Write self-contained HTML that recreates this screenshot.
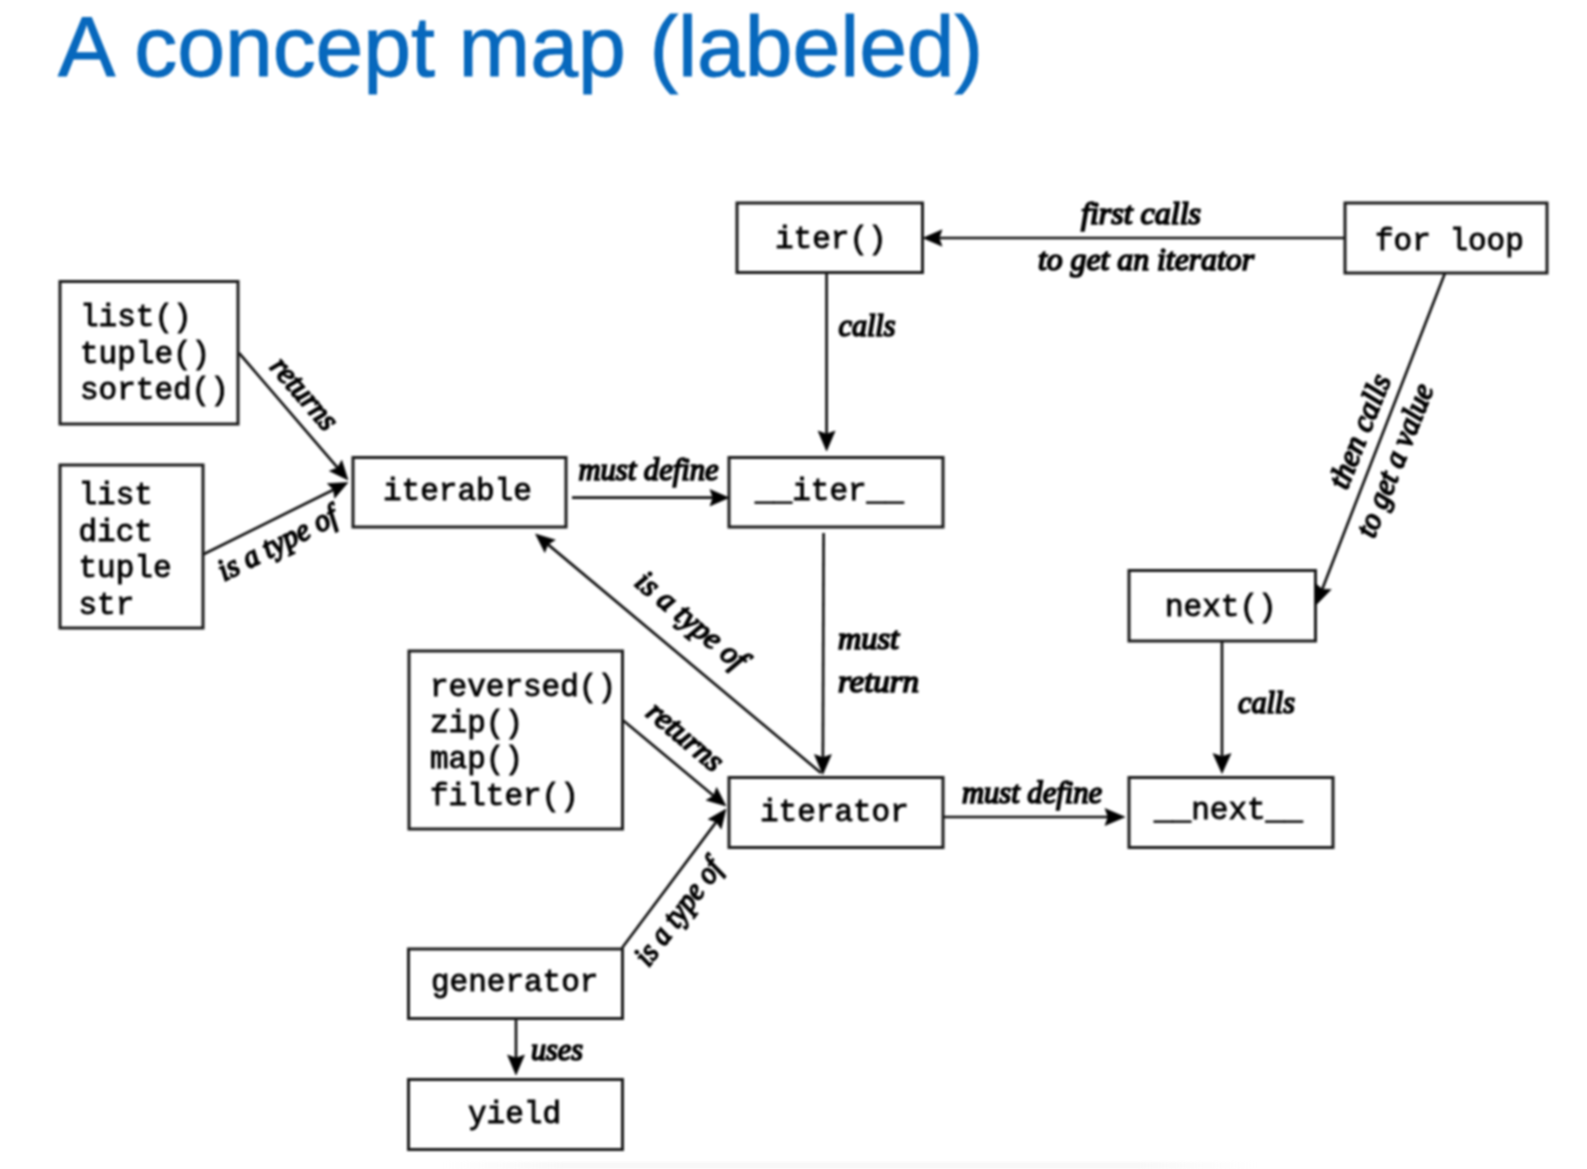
<!DOCTYPE html>
<html><head><meta charset="utf-8">
<style>
html,body{margin:0;padding:0;background:#fff;}
body{width:1587px;height:1169px;overflow:hidden;position:relative;}
#wrap{position:absolute;left:0;top:0;width:1587px;height:1169px;filter:blur(1px);}
#title{position:absolute;left:58px;top:-4px;-webkit-text-stroke:0.9px #0768bd;letter-spacing:-0.1px;font-family:"Liberation Sans",sans-serif;font-size:86px;color:#0768bd;white-space:nowrap;line-height:100px;}
svg{position:absolute;left:0;top:0;}
.bx{fill:none;stroke:#1a1a1a;stroke-width:3;}
.mono{font-family:"Liberation Mono",monospace;font-size:31px;fill:#000;stroke:#000;stroke-width:0.9;}
.hw{font-family:"Liberation Serif",serif;font-style:italic;font-weight:normal;fill:#000;stroke:#000;stroke-width:1.7;}
.ln{stroke:#111;stroke-width:2.7;fill:none;}
.ah{fill:#000;stroke:#000;stroke-width:0.6;}
</style></head><body>
<div id="wrap"><div id="title">A concept map (labeled)</div>
<div style="position:absolute;left:440px;top:1162px;width:820px;height:7px;background:linear-gradient(90deg,rgba(235,235,235,0),rgba(235,235,235,0.35) 15%,rgba(235,235,235,0.35) 85%,rgba(235,235,235,0));"></div>
<svg width="1587" height="1169" viewBox="0 0 1587 1169">

<g class="ln">
<line x1="239.0" y1="353.0" x2="337.5" y2="467.7"/>
<line x1="203.0" y1="554.5" x2="333.5" y2="489.7"/>
<line x1="572.0" y1="497.7" x2="712.9" y2="497.7"/>
<line x1="826.6" y1="273.0" x2="826.6" y2="434.0"/>
<line x1="1345.0" y1="238.0" x2="939.1" y2="238.0"/>
<line x1="1445.0" y1="273.0" x2="1322.2" y2="589.2"/>
<line x1="823.6" y1="533.0" x2="822.9" y2="757.5"/>
<line x1="821.0" y1="773.0" x2="547.9" y2="544.4"/>
<line x1="623.0" y1="720.3" x2="713.6" y2="795.7"/>
<line x1="622.0" y1="948.0" x2="716.3" y2="821.9"/>
<line x1="943.0" y1="817.0" x2="1108.0" y2="817.0"/>
<line x1="1222.0" y1="641.0" x2="1222.0" y2="756.5"/>
<line x1="516.0" y1="1018.5" x2="516.0" y2="1058.0"/>
</g>
<rect class="bx" x="60.0" y="281.5" width="178.0" height="142.5"/>
<rect class="bx" x="60.0" y="465.0" width="143.0" height="163.0"/>
<rect class="bx" x="353.0" y="457.5" width="213.0" height="69.5"/>
<rect class="bx" x="729.0" y="457.5" width="214.0" height="69.5"/>
<rect class="bx" x="737.0" y="203.0" width="185.5" height="69.5"/>
<rect class="bx" x="1345.0" y="203.0" width="202.0" height="70.0"/>
<rect class="bx" x="1129.0" y="570.5" width="186.5" height="70.5"/>
<rect class="bx" x="1129.0" y="777.5" width="204.0" height="70.0"/>
<rect class="bx" x="729.0" y="777.5" width="214.0" height="70.0"/>
<rect class="bx" x="409.0" y="651.0" width="213.5" height="178.0"/>
<rect class="bx" x="408.5" y="949.0" width="214.0" height="69.5"/>
<rect class="bx" x="408.5" y="1079.5" width="214.0" height="70.0"/>
<path class="ah" d="M348.0 480.0L329.4 470.9L337.5 467.7L341.8 460.2Z"/>
<path class="ah" d="M348.0 482.5L334.6 498.3L333.5 489.7L327.3 483.6Z"/>
<path class="ah" d="M729.0 497.7L710.0 505.9L712.9 497.7L710.0 489.5Z"/>
<path class="ah" d="M826.6 451.0L818.1 431.0L826.6 434.0L835.1 431.0Z"/>
<path class="ah" d="M923.0 238.0L942.0 229.8L939.1 238.0L942.0 246.2Z"/>
<path class="ah" d="M1316.0 605.0L1315.3 583.3L1322.2 589.2L1331.2 589.4Z"/>
<path class="ah" d="M822.8 774.5L814.4 754.5L822.9 757.5L831.4 754.5Z"/>
<path class="ah" d="M535.5 534.0L555.3 539.9L547.9 544.4L544.8 552.5Z"/>
<path class="ah" d="M726.0 806.0L706.1 800.2L713.6 795.7L716.6 787.5Z"/>
<path class="ah" d="M726.0 809.0L721.2 829.1L716.3 821.9L708.1 819.3Z"/>
<path class="ah" d="M1125.0 817.0L1105.0 825.5L1108.0 817.0L1105.0 808.5Z"/>
<path class="ah" d="M1222.0 773.5L1213.0 753.5L1222.0 756.5L1231.0 753.5Z"/>
<path class="ah" d="M516.0 1075.0L507.5 1055.0L516.0 1058.0L524.5 1055.0Z"/>
<text class="mono" x="80.0" y="326.0">list()</text>
<text class="mono" x="80.0" y="362.5">tuple()</text>
<text class="mono" x="80.0" y="399.0">sorted()</text>
<text class="mono" x="78.5" y="504.0">list</text>
<text class="mono" x="78.5" y="540.5">dict</text>
<text class="mono" x="78.5" y="577.0">tuple</text>
<text class="mono" x="78.5" y="613.5">str</text>
<text class="mono" x="383.0" y="500.0">iterable</text>
<text class="mono" x="755.0" y="500.0">__iter__</text>
<text class="mono" x="775.0" y="247.5">iter()</text>
<text class="mono" x="1375.0" y="250.0">for loop</text>
<text class="mono" x="1165.0" y="615.5">next()</text>
<text class="mono" x="1154.0" y="819.0">__next__</text>
<text class="mono" x="760.0" y="821.0">iterator</text>
<text class="mono" x="430.0" y="696.0">reversed()</text>
<text class="mono" x="430.0" y="732.0">zip()</text>
<text class="mono" x="430.0" y="768.0">map()</text>
<text class="mono" x="430.0" y="805.0">filter()</text>
<text class="mono" x="431.0" y="990.5">generator</text>
<text class="mono" x="468.0" y="1122.5">yield</text>
<text class="hw" text-anchor="middle" font-size="31" textLength="86" lengthAdjust="spacingAndGlyphs" transform="translate(297.0 400.0) rotate(49.0)">returns</text>
<text class="hw" text-anchor="middle" font-size="31" textLength="130" lengthAdjust="spacingAndGlyphs" transform="translate(282.0 552.0) rotate(-27.0)">is a type of</text>
<text class="hw" text-anchor="middle" font-size="31" textLength="140" lengthAdjust="spacingAndGlyphs" transform="translate(648.5 480.3) rotate(0.0)">must define</text>
<text class="hw" text-anchor="middle" font-size="31" textLength="57" lengthAdjust="spacingAndGlyphs" transform="translate(867.0 336.0) rotate(0.0)">calls</text>
<text class="hw" text-anchor="middle" font-size="31" textLength="120" lengthAdjust="spacingAndGlyphs" transform="translate(1141.0 224.4) rotate(0.0)">first calls</text>
<text class="hw" text-anchor="middle" font-size="31" textLength="216" lengthAdjust="spacingAndGlyphs" transform="translate(1146.0 269.5) rotate(0.0)">to get an iterator</text>
<text class="hw" text-anchor="middle" font-size="31" textLength="120" lengthAdjust="spacingAndGlyphs" transform="translate(1369.0 435.0) rotate(-68.3)">then calls</text>
<text class="hw" text-anchor="middle" font-size="31" textLength="162" lengthAdjust="spacingAndGlyphs" transform="translate(1404.0 464.0) rotate(-68.3)">to get a value</text>
<text class="hw" text-anchor="middle" font-size="31" textLength="135" lengthAdjust="spacingAndGlyphs" transform="translate(685.0 628.0) rotate(40.0)">is a type of</text>
<text class="hw" text-anchor="middle" font-size="31" textLength="61" lengthAdjust="spacingAndGlyphs" transform="translate(868.5 649.0) rotate(0.0)">must</text>
<text class="hw" text-anchor="middle" font-size="31" textLength="81" lengthAdjust="spacingAndGlyphs" transform="translate(878.5 692.0) rotate(0.0)">return</text>
<text class="hw" text-anchor="middle" font-size="31" textLength="90" lengthAdjust="spacingAndGlyphs" transform="translate(679.0 744.0) rotate(40.0)">returns</text>
<text class="hw" text-anchor="middle" font-size="31" textLength="125" lengthAdjust="spacingAndGlyphs" transform="translate(686.0 918.0) rotate(-53.0)">is a type of</text>
<text class="hw" text-anchor="middle" font-size="31" textLength="140" lengthAdjust="spacingAndGlyphs" transform="translate(1032.0 802.8) rotate(0.0)">must define</text>
<text class="hw" text-anchor="middle" font-size="31" textLength="57" lengthAdjust="spacingAndGlyphs" transform="translate(1266.5 713.0) rotate(0.0)">calls</text>
<text class="hw" text-anchor="middle" font-size="31" textLength="52" lengthAdjust="spacingAndGlyphs" transform="translate(557.0 1060.0) rotate(0.0)">uses</text>
</svg></div>
</body></html>
